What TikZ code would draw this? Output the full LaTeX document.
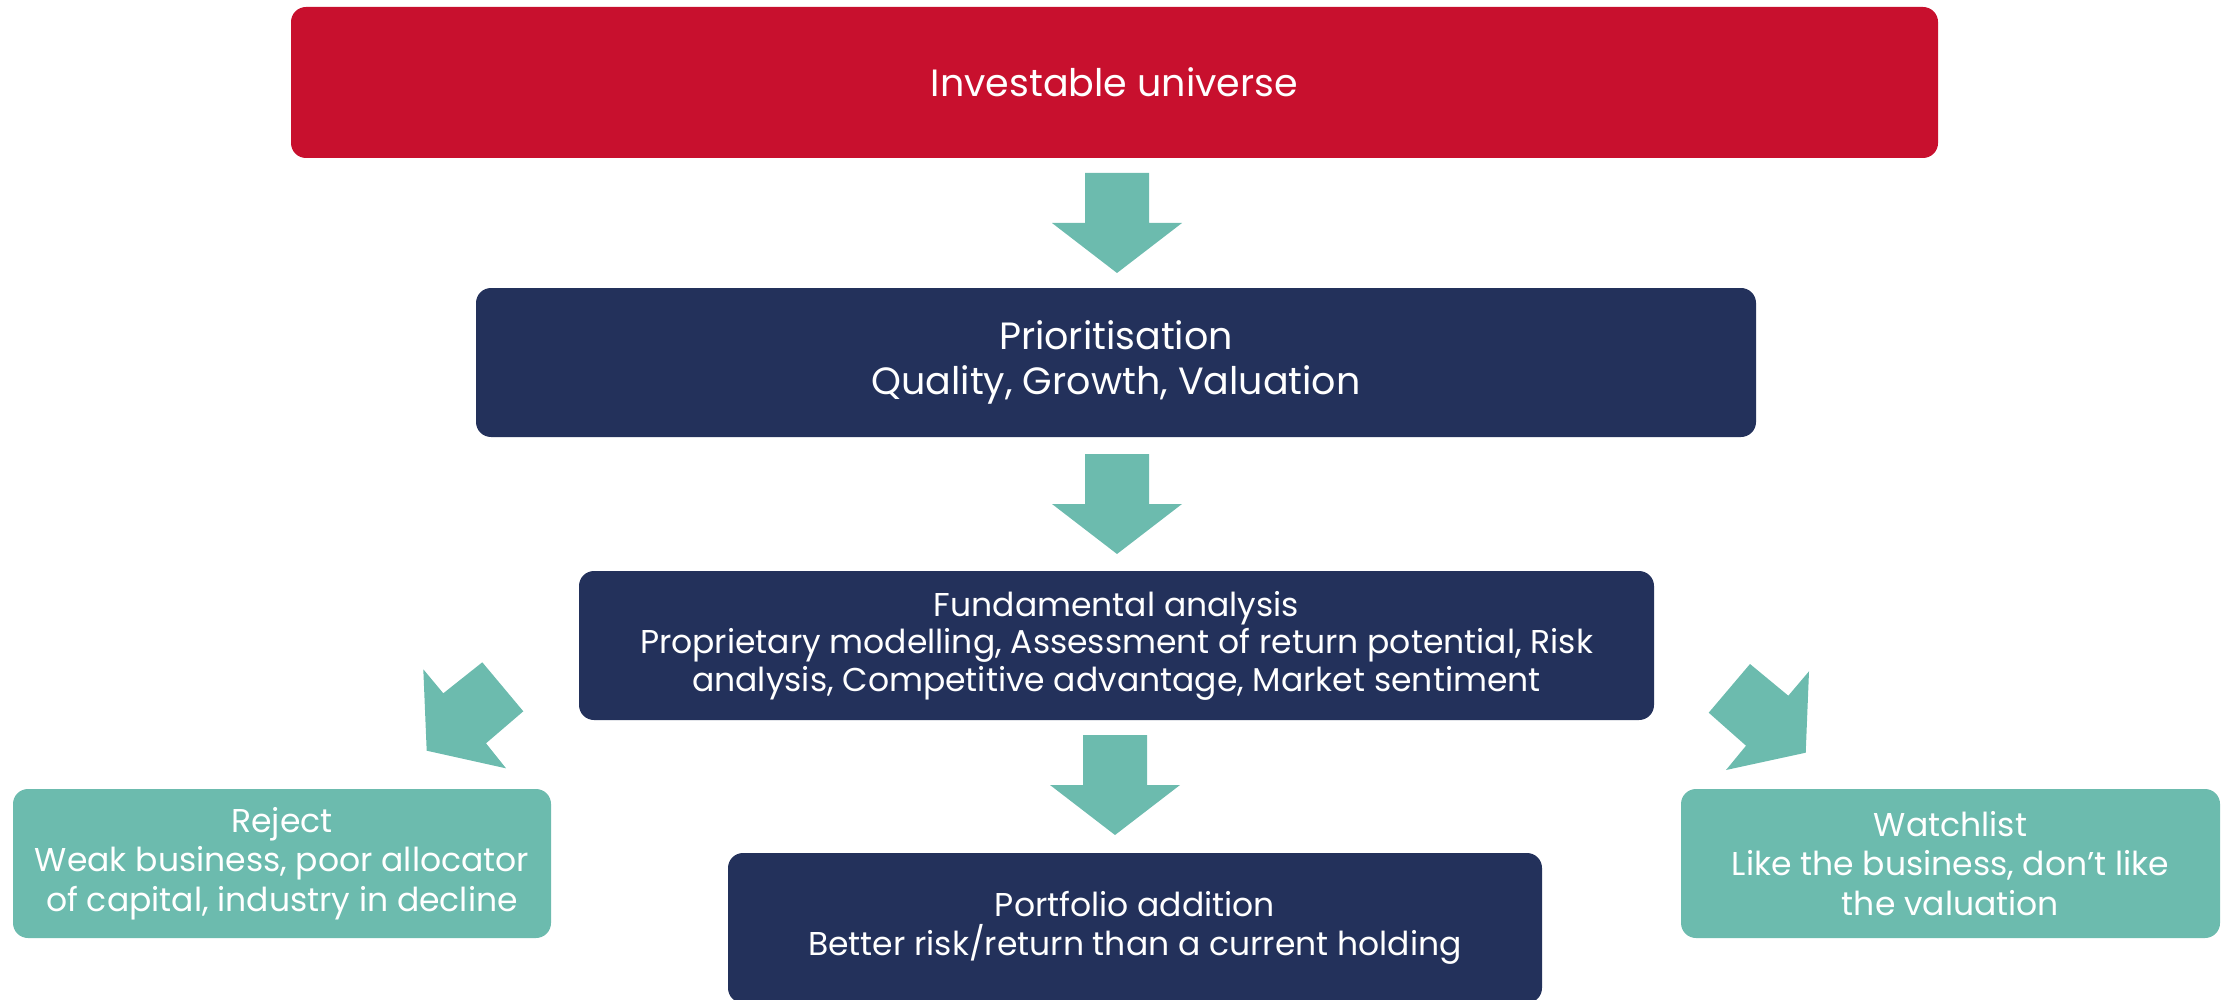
\documentclass[tikz,border=0pt]{standalone}
\usepackage{fontspec}
\setmainfont{Poppins}
\usepackage{xcolor}
\usepackage{tikz}

\definecolor{invred}{HTML}{C8102E}
\definecolor{invnavy}{HTML}{23315B}
\definecolor{invteal}{HTML}{6CBBAE}

\tikzset{
	stagebox/.style={rectangle, rounded corners=15pt, text=white, align=center, inner sep=0pt},
	flowarrow/.style={fill=invteal, draw=none}
}

\begin{document}
\begin{tikzpicture}[x=1pt, y=-1pt]

\useasboundingbox (0,0) rectangle (2226,1000);
\clip (0,0) rectangle (2226,1000);

% boxes
\node[stagebox, fill=invred, minimum width=1647pt, minimum height=151pt,
	font=\fontsize{38}{45}\selectfont] (universe) at (1114.5,82.5) {Investable universe};

\node[stagebox, fill=invnavy, minimum width=1280pt, minimum height=149pt,
	font=\fontsize{38}{45}\selectfont] (prior) at (1116,362.5) {Prioritisation\\Quality, Growth, Valuation};

\node[stagebox, fill=invnavy, minimum width=1075pt, minimum height=149pt,
	font=\fontsize{33}{37.5}\selectfont] (fund) at (1116.5,645.5)
	{Fundamental analysis\\Proprietary modelling, Assessment of return potential, Risk\\analysis, Competitive advantage, Market sentiment};

\node[stagebox, fill=invnavy, minimum width=814pt, minimum height=150pt,
	font=\fontsize{33}{39.5}\selectfont] (addition) at (1135,928) {Portfolio addition\\Better risk/return than a current holding};

\node[stagebox, fill=invteal, minimum width=538pt, minimum height=149pt,
	font=\fontsize{33}{39.5}\selectfont] (reject) at (282,863.5)
	{Reject\\Weak business, poor allocator\\of capital, industry in decline};

\node[stagebox, fill=invteal, minimum width=539pt, minimum height=149pt,
	font=\fontsize{33}{39.5}\selectfont] (watch) at (1950.5,863.5)
	{Watchlist\\Like the business, don't like\\the valuation};

% down arrows
\foreach \x/\y in {1117/173, 1117/454, 1115/735}{
	\fill[flowarrow] (\x-32,\y) -- (\x+32,\y) -- (\x+32,\y+50) -- (\x+65,\y+50)
		-- (\x,\y+100) -- (\x-65,\y+50) -- (\x-32,\y+50) -- cycle;
}

% side arrows
\fill[flowarrow] (423.3,669.3) -- (443.3,693.3) -- (482.3,662.3) -- (523.3,711.3)
	-- (486,743.3) -- (506,768.3) -- (426.7,750.7) -- cycle;
\fill[flowarrow] (1750,664) -- (1788.3,695.7) -- (1809,671.3) -- (1805.7,752.7)
	-- (1726,770) -- (1746,745.7) -- (1708.7,712.7) -- cycle;

\end{tikzpicture}
\end{document}
